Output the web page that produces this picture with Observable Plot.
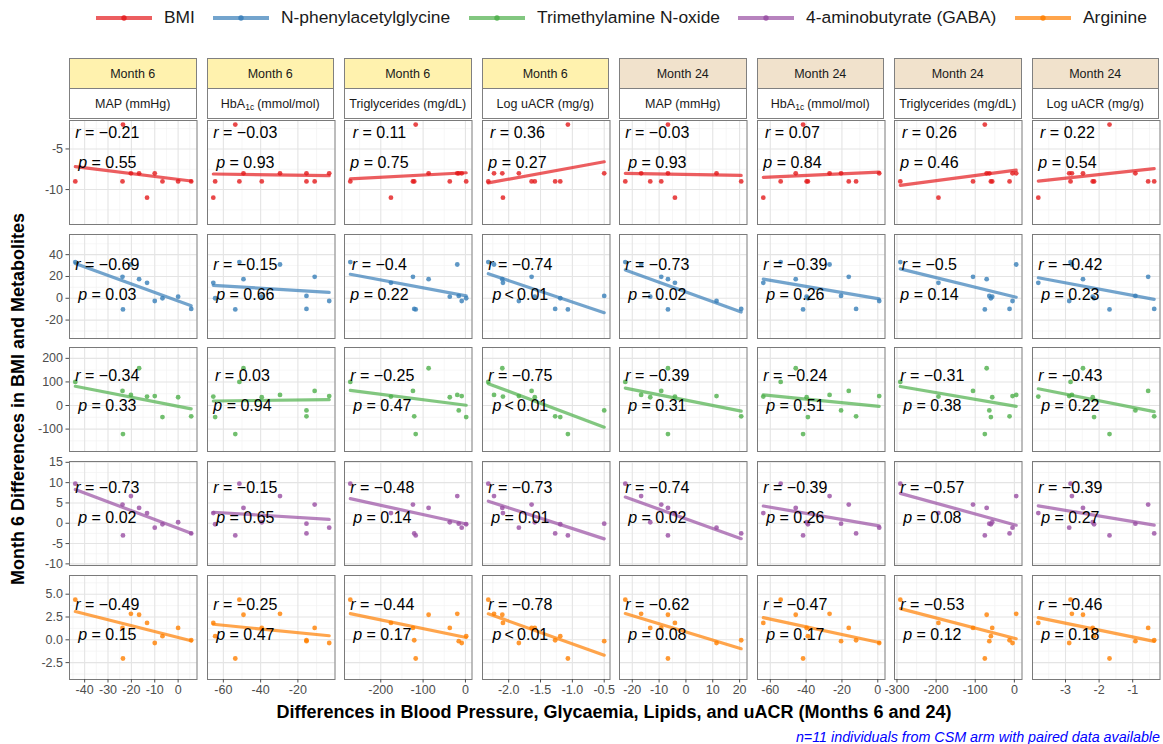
<!DOCTYPE html>
<html><head><meta charset="utf-8">
<script src="https://cdn.jsdelivr.net/npm/d3@7"></script>
<script src="https://cdn.jsdelivr.net/npm/@observablehq/plot@0.6"></script>
<style>
html,body{margin:0;padding:0;background:#fff;}
body{font-family:"Liberation Sans",Arial,Helvetica,sans-serif;}
#fig{position:relative;width:1163px;height:744px;overflow:hidden;background:#fff;}
.strip{position:absolute;box-sizing:border-box;border:1px solid #808080;display:flex;align-items:center;justify-content:center;font-size:12.5px;color:#1a1a1a;white-space:nowrap;}
.strip .sb{font-size:8.5px;position:relative;top:3px;margin-right:3px;}
.leg{position:absolute;display:flex;align-items:center;font-size:17.4px;color:#1a1a1a;white-space:nowrap;}
.panel{position:absolute;}
</style></head>
<body><div id="fig"></div>
<script>
// ---------------- data ----------------
const metabolites = ["BMI", "N-phenylacetylglycine", "Trimethylamine N-oxide", "4-aminobutyrate (GABA)", "Arginine"];
const seriesColors = ["#E41A1C", "#377EB8", "#4DAF4A", "#984EA3", "#FF7F00"];
const months = ["Month 6", "Month 6", "Month 6", "Month 6", "Month 24", "Month 24", "Month 24", "Month 24"];
const monthColors = {"Month 6": "#FFF2AE", "Month 24": "#F1E2CC"};
const measures = ["MAP (mmHg)", "HbA<span class='sb'>1c</span>(mmol/mol)", "Triglycerides (mg/dL)", "Log uACR (mg/g)",
                  "MAP (mmHg)", "HbA<span class='sb'>1c</span>(mmol/mol)", "Triglycerides (mg/dL)", "Log uACR (mg/g)"];

// Month 6 differences (11 individuals, same order in every array)
const bmi  = [-9, -2, -9, -8, -8, -11, -8, -9, -9, -9, -8];
const npag = [33.2, -10.2, 19.7, 31, 17.5, 14.2, -2.5, 0, 1.5, -9.8, 2.2];
const tmao = [100, -121, 62, 45, 158, 38, 40, -49, 35, -46, -21];
const gaba = [9.75, -3.0, 4.6, 6.7, 3.8, 2.5, -1.1, -0.25, 0.25, -2.5, -0.1];
const arg  = [4.4, -2.05, 1.3, 2.85, 2.75, 1.85, -0.35, 0.4, 1.3, -0.05, -0.15];

// clinical differences
const map6    = [-44, -23.6, -23.8, -20.2, -16.7, -13.3, -10, -6.7, 0, 5.6, null];
const hba1c6  = [-51.4, -53.6, -11, -29.6, -49.2, -65.4, -3.2, -64.4, -39.4, -15.4, -15.4];
const tg6     = [-272, -117.5, -124, -19.3, -87, -176, -8.8, 1.8, -37, -121, -15.8];
const uacr6   = [-2.32, -1.07, -1.64, -2.23, -2.10, -2.09, -1.84, -1.19, -1.59, -1.27, -0.50];
const map24   = [-22.6, -6.7, -9.2, -16.7, -6.7, -4.1, 11.4, null, -13.3, 20.6, null];
const hba1c24 = [-54.2, -41.7, -16.2, -26.9, -45.8, -63.9, 0.8, -39.0, -39.7, -12.1, -20.5];
const tg24    = [-291.5, -75.5, -105.7, 4.7, -70.8, -194, -4.7, -60, -56.6, -12.3, -64];
const uacr24  = [-2.85, -1.69, -0.54, -2.81, -2.48, -3.81, -2.89, -2.15, -2.19, -0.36, -0.92];

const rValues = [
  [-0.21, -0.03, 0.11, 0.36, -0.03, 0.07, 0.26, 0.22],
  [-0.69, -0.15, -0.4, -0.74, -0.73, -0.39, -0.5, -0.42],
  [-0.34, 0.03, -0.25, -0.75, -0.39, -0.24, -0.31, -0.43],
  [-0.73, -0.15, -0.48, -0.73, -0.74, -0.39, -0.57, -0.39],
  [-0.49, -0.25, -0.44, -0.78, -0.62, -0.47, -0.53, -0.46]];
const pValues = [
  ["0.55", "0.93", "0.75", "0.27", "0.93", "0.84", "0.46", "0.54"],
  ["0.03", "0.66", "0.22", "<0.01", "0.02", "0.26", "0.14", "0.23"],
  ["0.33", "0.94", "0.47", "<0.01", "0.31", "0.51", "0.38", "0.22"],
  ["0.02", "0.65", "0.14", "0.01", "0.02", "0.26", "0.08", "0.27"],
  ["0.15", "0.47", "0.17", "<0.01", "0.08", "0.17", "0.12", "0.18"]];

const xTicks = [[-40, -30, -20, -10, 0], [-60, -40, -20], [-200, -100, 0], [-2, -1.5, -1, -0.5],
                [-20, -10, 0, 10, 20], [-60, -40, -20, 0], [-300, -200, -100, 0], [-3, -2, -1]];
const xFormats = ["d", "d", "d", ".1f", "d", "d", "d", "d"];
const yTicks = [[-10, -5], [-20, 0, 20, 40], [-100, 0, 100, 200], [-10, -5, 0, 5, 10, 15], [-2.5, 0, 2.5, 5]];
const yFormats = ["d", "d", "d", "d", ".1f"];
const yDomains = [[-14.3, -1.5], [-36.9, 58.5], [-195, 246], [-10.4, 15.2], [-4.35, 7.05]];

const yTitle = "Month 6 Differences in BMI and Metabolites";
const xTitle = "Differences in Blood Pressure, Glycaemia, Lipids, and uACR (Months 6 and 24)";
const caption = "n=11 individuals from CSM arm with paired data available";

// ---------------- layout ----------------
const rowsData = [bmi, npag, tmao, gaba, arg];
const colsData = [map6, hba1c6, tg6, uacr6, map24, hba1c24, tg24, uacr24];
const PX0 = 69, PW = 127.5, PSTEP = 137.5, PY0 = 120, PH = 104, RSTEP = 113.7;
const rDy = [12, 30, 28, 26, 29];
const FONT = '"Liberation Sans", Arial, Helvetica, sans-serif';
const loc = d3.formatLocale({decimal: ".", thousands: ",", grouping: [3], currency: ["$", ""], minus: "-"});
const fig = document.getElementById("fig");

const ctx = document.createElement("canvas").getContext("2d");
ctx.font = `16px ${FONT}`;
const tw = s => ctx.measureText(s).width;

function minorsOf(t) {
  const s = t[1] - t[0];
  return [t[0] - s / 2, ...t.map(v => v + s / 2)];
}
function expand(vals) {
  const e = d3.extent(vals), d = (e[1] - e[0]) * 0.05;
  return [e[0] - d, e[1] + d];
}

// legend
const legLefts = [96, 213, 469, 738, 1015];
metabolites.forEach((m, i) => {
  const d = document.createElement("div");
  d.className = "leg";
  d.style.left = legLefts[i] + "px";
  d.style.top = "7px";
  d.style.height = "21px";
  d.innerHTML = `<svg width="56" height="12" style="margin-right:12px"><line x1="0" x2="56" y1="6" y2="6" stroke="${seriesColors[i]}" stroke-opacity="0.7" stroke-width="4"/><circle cx="28" cy="6" r="2.7" fill="${seriesColors[i]}" fill-opacity="0.85"/></svg><span>${m}</span>`;
  fig.appendChild(d);
});

// strips
months.forEach((m, c) => {
  const left = PX0 + c * PSTEP;
  const s1 = document.createElement("div");
  s1.className = "strip";
  Object.assign(s1.style, {left: left + "px", top: "58px", width: PW + "px", height: "31px", background: monthColors[m]});
  s1.textContent = m;
  fig.appendChild(s1);
  const s2 = document.createElement("div");
  s2.className = "strip";
  Object.assign(s2.style, {left: left + "px", top: "88px", width: PW + "px", height: "31px", background: "#fff"});
  s2.innerHTML = measures[c];
  fig.appendChild(s2);
});

// panels
rowsData.forEach((yv, r) => {
  colsData.forEach((xv, c) => {
    const data = xv.map((x, i) => ({x, y: yv[i]})).filter(d => d.x != null && d.y != null);
    const xd = expand(data.map(d => d.x));
    const yd = yDomains[r];
    const ml = c === 0 ? 45 : 0, mb = r === 4 ? 30 : 0;
    const rv = rValues[r][c];
    const rLab = "r = " + (rv < 0 ? "\u2212" : "") + Math.abs(rv);
    const pv = pValues[r][c];
    const pLab = pv.startsWith("<") ? "p\u2009<\u2009" + pv.slice(1) : "p = " + pv;
    const blockW = Math.max(tw(rLab), tw(pLab));
    const dx = 5.8 + blockW / 2;
    const inX = v => v > xd[0] && v < xd[1];
    const inY = v => v > yd[0] && v < yd[1];
    const marks = [
      Plot.gridX(minorsOf(xTicks[c]).filter(inX), {stroke: "#f2f2f2", strokeOpacity: 1, strokeWidth: 0.7}),
      Plot.gridY(minorsOf(yTicks[r]).filter(inY), {stroke: "#f2f2f2", strokeOpacity: 1, strokeWidth: 0.7}),
      Plot.gridX(xTicks[c].filter(inX), {stroke: "#e4e4e4", strokeOpacity: 1, strokeWidth: 1.1}),
      Plot.gridY(yTicks[r].filter(inY), {stroke: "#e4e4e4", strokeOpacity: 1, strokeWidth: 1.1}),
      Plot.dot(data, {x: "x", y: "y", r: 2.4, fill: seriesColors[r], fillOpacity: 0.8}),
      Plot.linearRegressionY(data, {x: "x", y: "y", ci: 0, stroke: seriesColors[r], strokeWidth: 3.2, strokeOpacity: 0.7}),
      Plot.frame({stroke: "#7a7a7a", strokeWidth: 1}),
      Plot.text([rLab], {text: d => d, frameAnchor: "top-left", dx, dy: rDy[r], textAnchor: "middle", lineAnchor: "middle", fontSize: 16, fill: "#000"}),
      Plot.text([pLab], {text: d => d, frameAnchor: "top-left", dx, dy: rDy[r] + 30, textAnchor: "middle", lineAnchor: "middle", fontSize: 16, fill: "#000"})
    ];
    if (c === 0) marks.push(Plot.axisY({ticks: yTicks[r].filter(inY), tickFormat: loc.format(yFormats[r]), tickSize: 3.5, tickPadding: 3, fontSize: 12.5, label: null, anchor: "left"}));
    if (r === 4) marks.push(Plot.axisX({ticks: xTicks[c].filter(inX), tickFormat: loc.format(xFormats[c]), tickSize: 3.5, tickPadding: 2.5, fontSize: 12.5, label: null, anchor: "bottom"}));
    const svg = Plot.plot({
      width: PW + ml, height: PH + mb,
      marginLeft: ml, marginRight: 0, marginTop: 0, marginBottom: mb,
      style: {fontFamily: FONT, fontSize: "12px", color: "#4d4d4d", background: "transparent", overflow: "visible"},
      x: {domain: xd, axis: null},
      y: {domain: yd, axis: null},
      marks
    });
    svg.classList.add("panel");
    svg.style.left = (PX0 + c * PSTEP - ml) + "px";
    svg.style.top = (PY0 + r * RSTEP) + "px";
    svg.style.maxWidth = "none";
    // italic r / p like plotmath
    d3.select(svg).selectAll("text").each(function () {
      const t = this.textContent;
      if (/^[rp][ \u2009][=<][ \u2009]/.test(t)) {
        const sel = d3.select(this);
        sel.text(null);
        sel.append("tspan").attr("font-style", "italic").text(t[0]);
        sel.append("tspan").text(t.slice(1));
      }
    });
    fig.appendChild(svg);
  });
});

// titles and caption
const yt = document.createElement("div");
Object.assign(yt.style, {position: "absolute", left: "18px", top: "399px", transform: "translate(-50%,-50%) rotate(-90deg)", fontWeight: "bold", fontSize: "18px", whiteSpace: "nowrap", color: "#000"});
yt.textContent = yTitle;
fig.appendChild(yt);
const xt = document.createElement("div");
Object.assign(xt.style, {position: "absolute", left: "614px", top: "712px", transform: "translate(-50%,-50%)", fontWeight: "bold", fontSize: "18px", whiteSpace: "nowrap", color: "#000"});
xt.textContent = xTitle;
fig.appendChild(xt);
const cp = document.createElement("div");
Object.assign(cp.style, {position: "absolute", right: "3px", top: "737px", transform: "translateY(-50%)", fontStyle: "italic", fontSize: "14.3px", whiteSpace: "nowrap", color: "#0000FF"});
cp.textContent = caption;
fig.appendChild(cp);
</script>
</body></html>
